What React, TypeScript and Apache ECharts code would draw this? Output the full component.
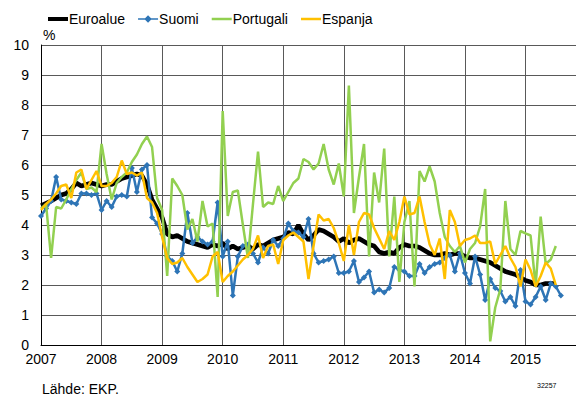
import React, { useEffect, useRef } from "react";
import * as echarts from "echarts";

const startYear = 2007;
const xMaxMonths = 106;
const yearTicks = [2007, 2008, 2009, 2010, 2011, 2012, 2013, 2014, 2015];

const euroalue = [
  4.65, 4.72, 4.8, 4.9, 5.0, 5.05, 5.2, 5.4, 5.3, 5.35, 5.4, 5.35,
  5.3, 5.35, 5.35, 5.45, 5.55, 5.6, 5.65, 5.7, 5.65, 5.35, 4.85, 4.55,
  4.25, 3.7, 3.6, 3.65, 3.55, 3.45, 3.4, 3.35, 3.3, 3.25, 3.35, 3.3,
  3.4, 3.2, 3.3, 3.2, 3.25, 3.3, 3.2, 3.35, 3.3, 3.4, 3.5, 3.55,
  3.6, 3.75, 3.7, 4.0, 3.7, 3.5, 3.65, 3.85, 3.8, 3.7, 3.6, 3.45,
  3.55, 3.4, 3.5, 3.55, 3.45, 3.35, 3.3, 3.1, 3.05, 3.1, 3.05, 3.25,
  3.35, 3.3, 3.3, 3.25, 3.15, 3.05, 3.0, 3.0, 3.05, 3.0, 3.05, 3.05,
  2.95, 2.9, 2.9, 2.85, 2.8, 2.75, 2.65, 2.55, 2.45, 2.4, 2.35, 2.25,
  2.15, 2.1, 2.0, 2.0, 2.05, 2.05, 2.05,
];

const suomi = [
  4.3, 4.55, 4.8, 5.6, 4.85, 4.8, 4.75, 4.7, 5.05, 5.05, 5.0, 5.05,
  4.5, 4.8, 4.6, 4.95, 5.0, 4.95, 5.9, 5.1, 5.85, 6.0, 4.25, 4.05,
  3.7, 2.95, 2.8, 2.45, 3.05, 4.4, 3.4, 3.6, 3.45, 3.35, 3.45, 4.75,
  2.95, 3.45, 1.65, 2.95, 3.3, 3.35, 3.05, 2.75, 3.25, 3.05, 3.5, 3.3,
  3.55, 4.05, 3.8, 3.75, 3.6, 4.2, 3.05, 2.75, 2.8, 2.85, 2.95, 2.4,
  2.4, 2.45, 2.8, 2.1, 2.25, 2.45, 1.75, 1.85, 1.75, 1.9, 2.6, 2.5,
  2.45, 2.3, 2.3, 2.7, 2.4, 2.6, 2.7, 2.75, 2.9, 3.0, 2.45, 3.05,
  2.4, 2.05, 2.95, 2.35, 1.5, 2.2, 1.9, 1.8, 1.45, 1.6, 1.3, 2.5,
  1.45, 1.35, 1.6, 1.95, 1.5, 2.05, 1.95, 1.65,
];

const portugali = [
  4.55, 4.7, 2.9, 4.6, 4.55, 4.85, 5.2, 5.5, 5.75, 5.2, 5.25, 5.1,
  6.7, 5.7, 4.85, 5.4, 5.6, 5.75, 6.1, 6.35, 6.7, 6.95, 6.6, 4.9,
  4.5, 2.3, 5.55, 5.3, 5.0, 3.85, 4.2, 3.45, 4.8, 3.95, 4.05, 1.6,
  7.8, 4.3, 5.1, 5.15, 4.0, 2.9, 4.7, 6.45, 4.6, 4.75, 4.7, 5.3,
  4.8, 5.1, 5.4, 5.55, 6.2, 6.1, 5.85, 6.05, 6.7, 5.85, 5.35, 6.05,
  4.95, 8.65, 4.4, 5.6, 6.7, 2.95, 5.75, 4.75, 6.55, 2.95, 4.95, 2.1,
  4.1, 4.8, 1.95, 5.8, 5.45, 5.95, 5.45, 4.4, 3.6, 3.3, 3.1, 3.3,
  2.75, 3.2, 3.4, 3.95, 5.2, 0.12, 1.25, 1.85, 4.8, 3.2, 3.0, 3.8,
  3.72, 3.65, 1.95, 4.28, 2.7, 2.85, 3.3,
];

const espanja = [
  4.5, 4.7, 4.85, 5.05, 5.3, 5.35, 4.9, 5.75, 5.85, 5.2, 5.5, 5.8,
  5.3, 5.3, 5.4, 5.6, 6.15, 5.7, 5.75, 5.65, 5.75, 4.9, 4.75, 4.4,
  3.6, 2.9, 2.7, 2.75, 2.9, 2.6, 2.35, 2.1, 2.2, 2.35, 2.95, 3.1,
  2.1, 2.3, 2.45, 2.65, 2.85, 3.0, 3.2, 3.65, 2.9, 3.3, 3.35, 2.7,
  3.5, 3.65, 3.75, 3.6, 3.45, 2.2, 3.3, 4.35, 4.15, 4.2, 3.9, 3.4,
  2.8, 4.0, 3.0, 4.1, 4.4, 4.35, 3.9, 3.55, 3.2, 3.8, 3.5, 4.1,
  4.95, 4.35, 4.4, 4.95, 4.1, 3.35, 3.0, 3.55, 2.2, 4.5, 4.1, 3.3,
  3.5, 3.55, 3.65, 3.4, 3.4, 3.45, 2.7, 3.0, 3.3, 2.9, 2.6, 1.95,
  2.85, 2.5, 1.95, 2.3, 2.75, 2.55, 2.0,
];

const toPoints = (vals: number[]) => vals.map((v, i) => [startYear + i / 12, v]);

const FONT = "'Liberation Sans', Arial, sans-serif";

const lineIcon = (h: number) => `path://M0,0 L40,0 L40,${h} L0,${h} Z`;
const diamondLineIcon =
  "path://M0,8.5 L14,8.5 L20,2.5 L26,8.5 L40,8.5 L40,11.5 L26,11.5 L20,17.5 L14,11.5 L0,11.5 Z";

export default function App() {
  const ref = useRef<HTMLDivElement>(null);
  useEffect(() => {
    document.body.style.margin = "0";
    const chart = echarts.init(ref.current!, null, { renderer: "svg" });
    const gridColor = "#595959";
    chart.setOption({
      animation: false,
      backgroundColor: "#ffffff",
      textStyle: { fontFamily: FONT },
      legend: {
        left: 43,
        top: 7,
        itemWidth: 20,
        itemHeight: 10,
        itemGap: 13,
        textStyle: { fontSize: 14, color: "#000", fontFamily: FONT, padding: [0, 0, 0, -4] },
        data: [
          { name: "Euroalue", icon: lineIcon(8) },
          { name: "Suomi", icon: diamondLineIcon },
          { name: "Portugali", icon: lineIcon(5) },
          { name: "Espanja", icon: lineIcon(5) },
        ],
      },
      grid: { left: 41, top: 45, width: 535, height: 300, containLabel: false },
      xAxis: {
        type: "value",
        min: startYear,
        max: startYear + xMaxMonths / 12,
        interval: 1,
        axisLine: { show: true, lineStyle: { color: "#000", width: 1 } },
        axisTick: { show: false },
        splitLine: { show: true, lineStyle: { color: gridColor, width: 1 } },
        axisLabel: {
          color: "#000",
          fontSize: 14,
          fontFamily: FONT,
          margin: 7,
          showMaxLabel: false,
          formatter: (v: number) => (yearTicks.includes(Math.round(v)) ? String(Math.round(v)) : ""),
        },
      },
      yAxis: {
        type: "value",
        min: 0,
        max: 10,
        interval: 1,
        axisLine: { show: true, lineStyle: { color: "#000", width: 1 } },
        axisTick: { show: false },
        splitLine: { show: true, lineStyle: { color: gridColor, width: 1 } },
        axisLabel: { color: "#000", fontSize: 14, fontFamily: FONT, margin: 12 },
      },
      series: [
        {
          name: "Euroalue",
          type: "line",
          data: toPoints(euroalue),
          showSymbol: false,
          symbol: "none",
          lineStyle: { color: "#000000", width: 4.5 },
          itemStyle: { color: "#000000" },
          z: 2,
        },
        {
          name: "Suomi",
          type: "line",
          data: toPoints(suomi),
          symbol: "diamond",
          symbolSize: 6,
          lineStyle: { color: "#2E75B6", width: 2.5 },
          itemStyle: { color: "#2E75B6" },
          z: 3,
        },
        {
          name: "Portugali",
          type: "line",
          data: toPoints(portugali),
          symbol: "none",
          lineStyle: { color: "#92D050", width: 2.5 },
          itemStyle: { color: "#92D050" },
          z: 4,
        },
        {
          name: "Espanja",
          type: "line",
          data: toPoints(espanja),
          symbol: "none",
          lineStyle: { color: "#FFC000", width: 2.5 },
          itemStyle: { color: "#FFC000" },
          z: 5,
        },
      ],
      graphic: [
        {
          type: "text",
          left: 43,
          top: 28,
          style: { text: "%", fontSize: 14, fill: "#000", fontFamily: FONT },
        },
        {
          type: "text",
          left: 42,
          top: 382,
          style: { text: "Lähde: EKP.", fontSize: 14, fill: "#000", fontFamily: FONT },
        },
        {
          type: "text",
          left: 537,
          top: 382,
          style: { text: "32257", fontSize: 7, fill: "#000", fontFamily: FONT },
        },
      ],
    });
    return () => chart.dispose();
  }, []);
  return (
    <div
      ref={ref}
      style={{ position: "absolute", left: 0, top: 0, width: 576, height: 402 }}
    />
  );
}
